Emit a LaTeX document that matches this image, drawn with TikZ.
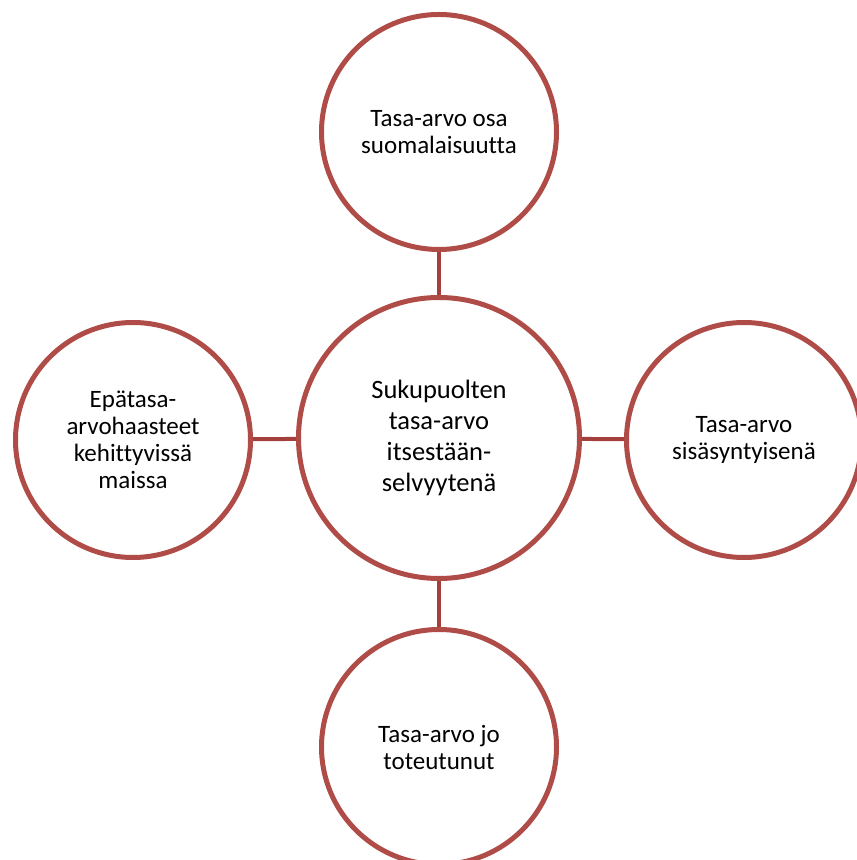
\documentclass[tikz,border=0pt]{standalone}
\usepackage{fontspec}
\setmainfont[Ligatures=NoCommon]{Carlito}
\usetikzlibrary{calc}
\definecolor{ringred}{RGB}{176,76,72}
\definecolor{linkred}{RGB}{163,64,61}

\begin{document}
\begin{tikzpicture}[
  x=1pt,y=1pt,
  ring/.style={circle,draw=ringred,line width=5pt,fill=white,inner sep=0pt,
    align=center,minimum size=235pt,font=\fontsize{25}{27}\selectfont},
  hub/.style={ring,minimum size=281pt,font=\fontsize{26.5}{31}\selectfont},
  link/.style={draw=linkred,line width=4pt},
  ]

  \clip (0,0) rectangle (857,860);

  \node (hub) [hub] at (439,422) {Sukupuolten\\tasa-arvo\\itsestään-\\selvyytenä};

  \foreach \name/\dx/\dy/\txt in {%
      top/0/306/{Tasa-arvo osa\\suomalaisuutta},
      right/305/-2/{Tasa-arvo\\sisäsyntyisenä},
      bottom/0/-309/{Tasa-arvo jo\\toteutunut},
      left/-306/-2/{Epätasa-\\arvohaasteet\\kehittyvissä\\maissa}}
  {
    \node (ring_\name) [ring] at ($(hub)+(\dx,\dy)$) {\txt};
    \draw [link] (hub) -- (ring_\name);
  }

\end{tikzpicture}
\end{document}
